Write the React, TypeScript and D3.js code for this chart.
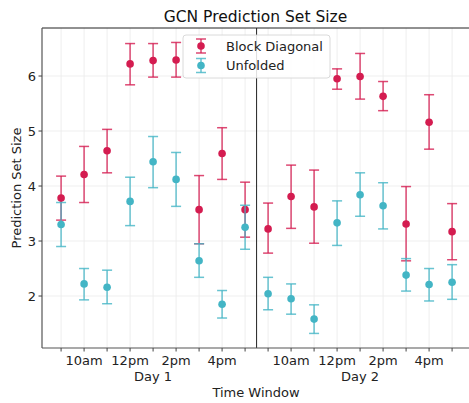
import React from "react";
import * as d3 from "d3";

const hours = ["9am", "10am", "11am", "12pm", "1pm", "2pm", "3pm", "4pm", "5pm"];
const days = ["Day 1", "Day 2"];
const tickLabels = ["", "10am", "", "12pm", "", "2pm", "", "4pm", ""];
const yTicks = [2, 3, 4, 5, 6];

// Block Diagonal: mean, lower, upper for 18 windows (Day 1 then Day 2)
const blockMean = [3.78, 4.21, 4.64, 6.22, 6.28, 6.29, 3.57, 4.59, 3.57, 3.22, 3.81, 3.62, 5.95, 5.99, 5.63, 3.31, 5.16, 3.17];
const blockLow = [3.38, 3.70, 4.24, 5.84, 5.98, 5.98, 2.95, 4.12, 3.07, 2.78, 3.23, 2.96, 5.76, 5.58, 5.37, 2.64, 4.67, 2.66];
const blockHigh = [4.18, 4.72, 5.03, 6.59, 6.59, 6.61, 4.19, 5.06, 4.07, 3.69, 4.38, 4.29, 6.13, 6.41, 5.90, 3.99, 5.66, 3.68];

const unfMean = [3.30, 2.22, 2.16, 3.72, 4.44, 4.12, 2.64, 1.85, 3.25, 2.04, 1.95, 1.58, 3.33, 3.84, 3.64, 2.38, 2.21, 2.25];
const unfLow = [2.90, 1.93, 1.86, 3.28, 3.97, 3.63, 2.34, 1.60, 2.85, 1.75, 1.67, 1.32, 2.92, 3.45, 3.22, 2.09, 1.91, 1.94];
const unfHigh = [3.70, 2.50, 2.47, 4.16, 4.90, 4.61, 2.95, 2.10, 3.65, 2.34, 2.22, 1.84, 3.73, 4.24, 4.06, 2.68, 2.50, 2.57];

const BLOCK = "#d41c50";
const UNF = "#43b5c5";

const W = 469;
const H = 403;
const left = 42;
const top = 28;
const bottom = 348;

export default function App() {
  const n = hours.length * days.length;
  const idx = d3.range(n);
  const x = d3.scaleLinear().domain([-0.83, 17.83]).range([left, left + 18.66 * 23]);
  const y = d3.scaleLinear().domain([1.055, 6.873]).range([bottom, top]);
  const right = W + 5;

  const series = [
    { name: "Block Diagonal", color: BLOCK, mean: blockMean, low: blockLow, high: blockHigh },
    { name: "Unfolded", color: UNF, mean: unfMean, low: unfLow, high: unfHigh },
  ];
  const cap = 5;
  const font = "DejaVu Sans, sans-serif";

  return (
    <svg width={W} height={H} style={{ position: "absolute", left: 0, top: 0, background: "#fff" }} fontFamily={font}>
      {/* grid */}
      {idx.map((i) => (
        <line key={"gx" + i} x1={x(i)} x2={x(i)} y1={top} y2={bottom} stroke="#ebebeb" strokeWidth={0.8} />
      ))}
      {yTicks.map((t) => (
        <line key={"gy" + t} x1={left} x2={right} y1={y(t)} y2={y(t)} stroke="#ebebeb" strokeWidth={0.8} />
      ))}
      {/* day divider */}
      <line x1={x(8.5)} x2={x(8.5)} y1={top} y2={bottom} stroke="#222" strokeWidth={1} />
      {/* error bars */}
      {series.map((s) => (
        <g key={s.name}>
          {idx.map((i) => (
            <g key={i} stroke={s.color} strokeWidth={1.5} strokeOpacity={0.8}>
              <line x1={x(i)} x2={x(i)} y1={y(s.low[i])} y2={y(s.high[i])} />
              <line x1={x(i) - cap} x2={x(i) + cap} y1={y(s.low[i])} y2={y(s.low[i])} />
              <line x1={x(i) - cap} x2={x(i) + cap} y1={y(s.high[i])} y2={y(s.high[i])} />
            </g>
          ))}
          {idx.map((i) => (
            <circle key={"c" + i} cx={x(i)} cy={y(s.mean[i])} r={3.8} fill={s.color} />
          ))}
        </g>
      ))}
      {/* spines */}
      <line x1={left} x2={right} y1={top} y2={top} stroke="#222" strokeWidth={1} />
      <line x1={left} x2={left} y1={top} y2={bottom} stroke="#555" strokeWidth={1.2} />
      <line x1={left} x2={right} y1={bottom} y2={bottom} stroke="#555" strokeWidth={1.2} />
      {/* x ticks */}
      {idx.map((i) => (
        <line key={"xt" + i} x1={x(i)} x2={x(i)} y1={bottom} y2={bottom + 3.5} stroke="#444" strokeWidth={1} />
      ))}
      {idx.map((i) =>
        tickLabels[i % 9] ? (
          <text key={"xl" + i} x={x(i)} y={365} textAnchor="middle" fontSize={13} fill="#222">
            {tickLabels[i % 9]}
          </text>
        ) : null
      )}
      {days.map((d, k) => (
        <text key={d} x={x(k * 9 + 4)} y={381} textAnchor="middle" fontSize={13} fill="#222">
          {d}
        </text>
      ))}
      {/* y ticks */}
      {yTicks.map((t) => (
        <g key={"yt" + t}>
          <line x1={left - 3.5} x2={left} y1={y(t)} y2={y(t)} stroke="#444" strokeWidth={1} />
          <text x={left - 6} y={y(t)} dy="0.35em" textAnchor="end" fontSize={13} fill="#222">
            {t}
          </text>
        </g>
      ))}
      {/* labels */}
      <text x={(left + 469) / 2} y={22} textAnchor="middle" fontSize={15.5} fill="#111">
        GCN Prediction Set Size
      </text>
      <text x={256} y={397} textAnchor="middle" fontSize={13} fill="#222">
        Time Window
      </text>
      <text transform={`translate(21,${(top + bottom) / 2}) rotate(-90)`} textAnchor="middle" fontSize={13} fill="#222">
        Prediction Set Size
      </text>
      {/* legend */}
      <rect x={183} y={35} width={147} height={43} rx={3} fill="#fff" fillOpacity={0.85} stroke="#d0d0d0" strokeWidth={0.8} />
      {series.map((s, k) => {
        const cy = 46 + k * 19.5;
        return (
          <g key={"lg" + s.name}>
            <g stroke={s.color} strokeWidth={1.5} strokeOpacity={0.8}>
              <line x1={201} x2={201} y1={cy - 7} y2={cy + 7} />
              <line x1={201 - cap} x2={201 + cap} y1={cy - 7} y2={cy - 7} />
              <line x1={201 - cap} x2={201 + cap} y1={cy + 7} y2={cy + 7} />
            </g>
            <circle cx={201} cy={cy} r={3.8} fill={s.color} />
            <text x={226} y={cy} dy="0.35em" fontSize={13} fill="#222">
              {s.name}
            </text>
          </g>
        );
      })}
    </svg>
  );
}
